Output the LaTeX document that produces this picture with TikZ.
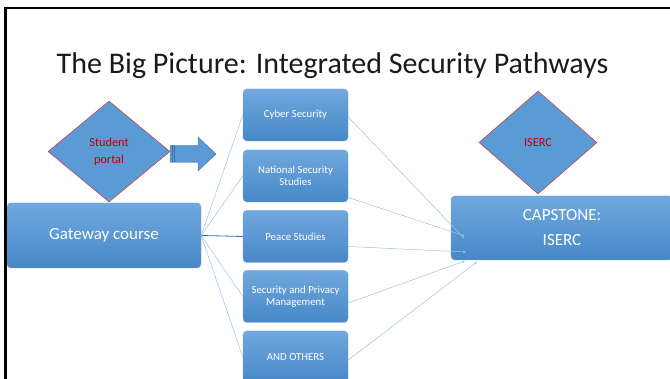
\documentclass[tikz,border=0pt]{standalone}
\usepackage{fontspec}
\setmainfont{Carlito}
\usetikzlibrary{shapes.geometric,arrows.meta,calc}
\definecolor{boxtop}{HTML}{70A8DE}
\definecolor{boxbot}{HTML}{4787C7}
\definecolor{boxedge}{HTML}{6FA3D6}
\definecolor{dfill}{HTML}{5B9BD5}
\definecolor{dred}{HTML}{C00000}
\definecolor{dedge}{HTML}{D0383C}
\definecolor{lline}{HTML}{9DC3E6}
\definecolor{dline}{HTML}{2E75B6}
\definecolor{arrowedge}{HTML}{41719C}
\definecolor{titlecol}{HTML}{1A1A1A}
\begin{document}
\begin{tikzpicture}[x=1pt,y=-1pt,
 box/.style={rectangle, rounded corners=4pt, top color=boxtop, bottom color=boxbot, draw=boxedge, line width=0.4pt, text=white, align=center, inner sep=0pt},
 midbox/.style={box, minimum width=105pt, minimum height=52pt, font=\fontsize{10.8}{12}\selectfont},
 bigbox/.style={box, font=\fontsize{17}{25}\selectfont},
 gem/.style={diamond, fill=dfill, draw=dedge, line width=0.5pt, text=dred, align=center, inner sep=0pt, font=\fontsize{12.3}{17}\selectfont},
 link/.style={draw=lline, line width=0.5pt},
 feed/.style={link, -{Stealth[length=3pt,width=2.5pt]}},
]
\useasboundingbox (0,0) rectangle (670,379);
\clip (0,0) rectangle (670,379);
\fill[white] (0,0) rectangle (670,379);

\node[font=\fontsize{30}{31}\selectfont, text=titlecol, anchor=base] (title) at (332.5,74) {The Big Picture: Integrated Security Pathways};

\node[gem, minimum width=122pt, minimum height=101pt] (portal) at (109,151.5) {Student\\portal};
\node[gem, minimum width=118pt, minimum height=103pt] (iserc) at (538,142.5) {ISERC};

\draw[fill=dfill, draw=arrowedge, line width=0.4pt] (170,145.5) -- (198,145.5) -- (198,137) -- (216,154) -- (198,171) -- (198,162.5) -- (170,162.5) -- cycle;
\draw[arrowedge, line width=0.4pt] (172.5,145.5) -- (172.5,162.5);
\draw[arrowedge, line width=0.4pt] (174.5,145.5) -- (174.5,162.5);

\node[bigbox, minimum width=194pt, minimum height=65pt] (gate) at (104,235.5) {Gateway course};

\node[midbox] (cyber) at (295.5,115) {Cyber Security};
\node[midbox] (nss) at (295.5,176) {National Security\\Studies};
\node[midbox] (peace) at (295.5,236.5) {Peace Studies};
\node[midbox] (spm) at (295.5,296.5) {Security and Privacy\\Management};
\node[midbox] (others) at (295.5,357) {AND OTHERS};

\draw[link] (gate.east) -- (cyber.west);
\draw[link] (gate.east) -- (nss.west);
\draw[draw=dline, line width=0.8pt] (gate.east) -- (peace.west);
\draw[link] (gate.east) -- (spm.west);
\draw[link] (gate.east) -- (others.west);

\node[bigbox, minimum width=222pt, minimum height=64pt] (cap) at (562,228) {CAPSTONE:\\ISERC};

\draw[feed] ([yshift=-2pt]cyber.east) -- ([xshift=13pt,yshift=-10pt]cap.west);
\draw[feed] ([yshift=-21.5pt]nss.east) -- ([xshift=14pt,yshift=-8pt]cap.west);
\draw[feed] ([yshift=-10pt]peace.east) -- ([xshift=15pt,yshift=-24pt]cap.west);
\draw[feed] ([yshift=-6.5pt]spm.east) -- ([xshift=14pt,yshift=-33pt]cap.west);
\draw[feed] ([yshift=-3pt]others.east) -- ([xshift=26pt,yshift=-34pt]cap.west);

\draw[line width=2.4pt, line cap=rect] (5.5,380) -- (5.5,8) -- (671,8);
\end{tikzpicture}
\end{document}
